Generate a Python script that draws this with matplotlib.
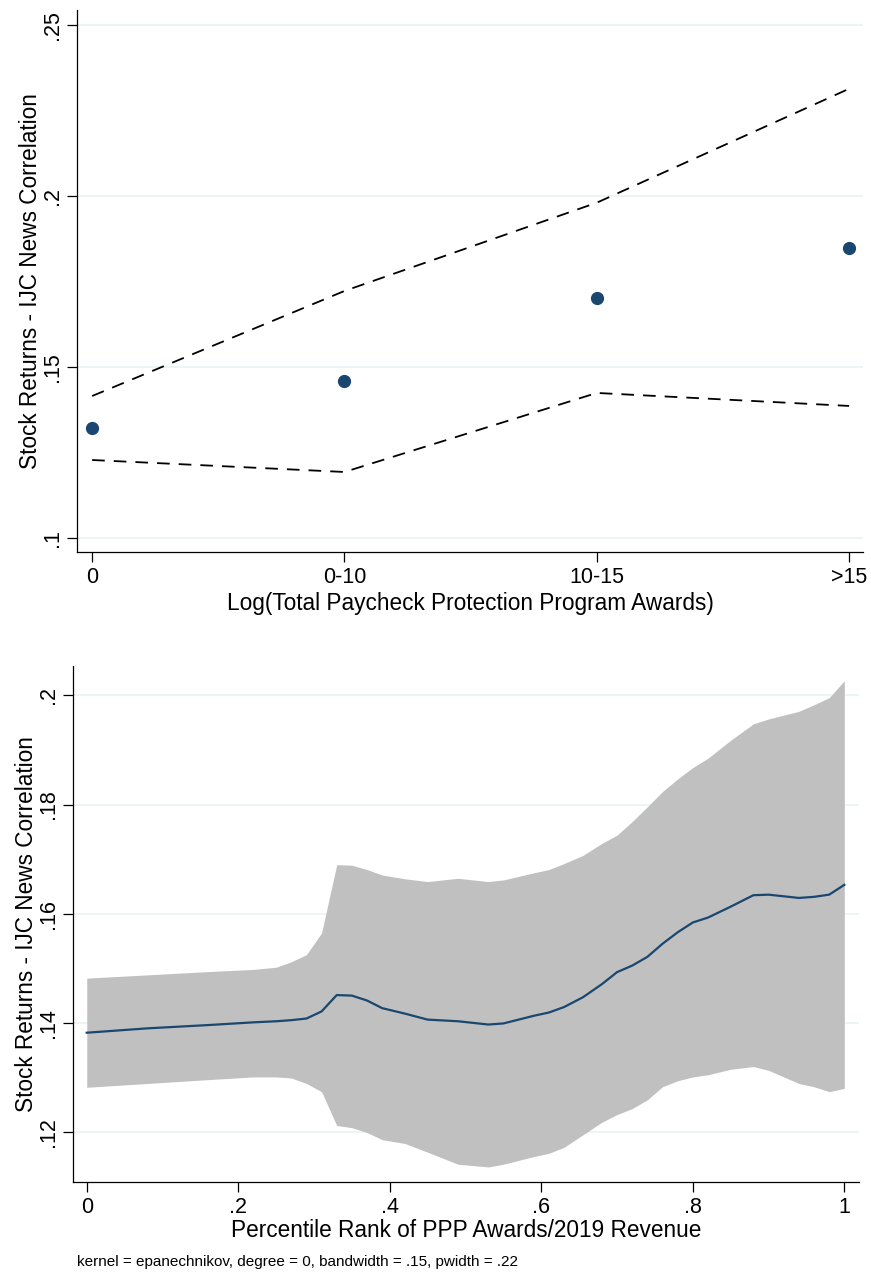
import numpy as np
import matplotlib.pyplot as plt

plt.rcParams["font.family"] = ["Liberation Sans", "DejaVu Sans"]

NAVY = "#1a476f"
BAND = "#c0c0c0"
GRID = "#eaf2f3"

# Panel A: binned means with 95% CI by PPP award size
award_bins = ["0", "0-10", "10-15", ">15"]
bin_means = [0.1322, 0.1459, 0.1702, 0.1848]
bin_upper = [0.1415, 0.1722, 0.1980, 0.2313]
bin_lower = [0.1228, 0.1193, 0.1424, 0.1386]

# Panel B: local polynomial smooth with 95% CI
pct_rank = [0.00, 0.08, 0.16, 0.22, 0.25, 0.27, 0.29, 0.31, 0.33, 0.35,
            0.37, 0.39, 0.42, 0.45, 0.49, 0.53, 0.55, 0.59, 0.61, 0.63,
            0.655, 0.68, 0.70, 0.72, 0.74, 0.76, 0.78, 0.80, 0.82, 0.85,
            0.88, 0.90, 0.94, 0.96, 0.98, 1.00]
smooth_mid = [0.1382, 0.1390, 0.1396, 0.1401, 0.1403, 0.1405, 0.1408, 0.1421, 0.1451, 0.1450,
              0.1441, 0.1427, 0.1417, 0.1406, 0.1403, 0.1397, 0.1399, 0.1413, 0.1419, 0.1429,
              0.1447, 0.1471, 0.1493, 0.1505, 0.1521, 0.1545, 0.1566, 0.1584, 0.1593, 0.1613,
              0.1634, 0.1635, 0.1629, 0.1631, 0.1635, 0.1653]
smooth_lo = [0.1282, 0.1289, 0.1296, 0.1301, 0.1301, 0.1299, 0.1289, 0.1274, 0.1212, 0.1208,
             0.1199, 0.1186, 0.1179, 0.1163, 0.1141, 0.1136, 0.1141, 0.1155, 0.1161, 0.1172,
             0.1195, 0.1218, 0.1232, 0.1243, 0.1259, 0.1283, 0.1294, 0.1301, 0.1305, 0.1315,
             0.1320, 0.1313, 0.1289, 0.1283, 0.1274, 0.1280]
smooth_hi = [0.1482, 0.1488, 0.1494, 0.1498, 0.1502, 0.1512, 0.1525, 0.1565, 0.1690, 0.1689,
             0.1681, 0.1671, 0.1664, 0.1659, 0.1665, 0.1659, 0.1662, 0.1675, 0.1681, 0.1692,
             0.1707, 0.1729, 0.1744, 0.1769, 0.1796, 0.1824, 0.1847, 0.1868, 0.1885, 0.1918,
             0.1948, 0.1957, 0.1971, 0.1983, 0.1996, 0.2027]

YLABEL = "Stock Returns - IJC News Correlation"
FS_TICK = 15.5
FS_LABEL = 16.3


def style_axes(ax):
    for side in ("top", "right"):
        ax.spines[side].set_visible(False)
    for side in ("left", "bottom"):
        ax.spines[side].set_linewidth(0.9)
    ax.tick_params(axis="both", length=7, width=0.9, labelsize=FS_TICK, pad=4)
    ax.tick_params(axis="y", labelrotation=90, pad=3)
    for lab in ax.get_yticklabels():
        lab.set_va("center")
    ax.grid(axis="y", color=GRID, linewidth=1.2)
    ax.set_axisbelow(True)


fig = plt.figure(figsize=(8.71, 12.72), dpi=100)

# ---------------------------------------------------------------- top panel
ax1 = fig.add_axes([0.0884, 0.5660, 0.9024, 0.4261])
xpos = np.arange(len(award_bins))
ax1.plot(xpos, bin_upper, color="black", linestyle=(0, (7, 5)), linewidth=1.3)
ax1.plot(xpos, bin_lower, color="black", linestyle=(0, (7, 5)), linewidth=1.3)
ax1.plot(xpos, bin_means, "o", color=NAVY, markersize=8.5, linestyle="none")
ax1.set_xlim(-0.06, 3.055)
ax1.set_ylim(0.0959, 0.2543)
ax1.set_xticks(xpos)
ax1.set_xticklabels(award_bins)
ax1.set_yticks([0.1, 0.15, 0.2, 0.25])
ax1.set_yticklabels([".1", ".15", ".2", ".25"])
ax1.set_xlabel("Log(Total Paycheck Protection Program Awards)", fontsize=FS_LABEL, labelpad=3)
ax1.set_ylabel(YLABEL, fontsize=FS_LABEL, labelpad=0)
style_axes(ax1)

# ------------------------------------------------------------- bottom panel
ax2 = fig.add_axes([0.0835, 0.0710, 0.9024, 0.4054])
ax2.fill_between(pct_rank, smooth_lo, smooth_hi, color=BAND, linewidth=0)
ax2.plot(pct_rank, smooth_mid, color=NAVY, linewidth=1.6)
ax2.set_xlim(-0.0185, 1.019)
ax2.set_ylim(0.1109, 0.2054)
ax2.set_xticks([0, 0.2, 0.4, 0.6, 0.8, 1.0])
ax2.set_xticklabels(["0", ".2", ".4", ".6", ".8", "1"])
ax2.set_yticks([0.12, 0.14, 0.16, 0.18, 0.2])
ax2.set_yticklabels([".12", ".14", ".16", ".18", ".2"])
ax2.set_xlabel("Percentile Rank of PPP Awards/2019 Revenue", fontsize=FS_LABEL, labelpad=1)
ax2.set_ylabel(YLABEL, fontsize=FS_LABEL, labelpad=0)
style_axes(ax2)

fig.text(77 / 871, 1 - 1262 / 1272,
         "kernel = epanechnikov, degree = 0, bandwidth = .15, pwidth = .22",
         fontsize=11, ha="left", va="center")

fig.savefig("out.png", dpi=100)
